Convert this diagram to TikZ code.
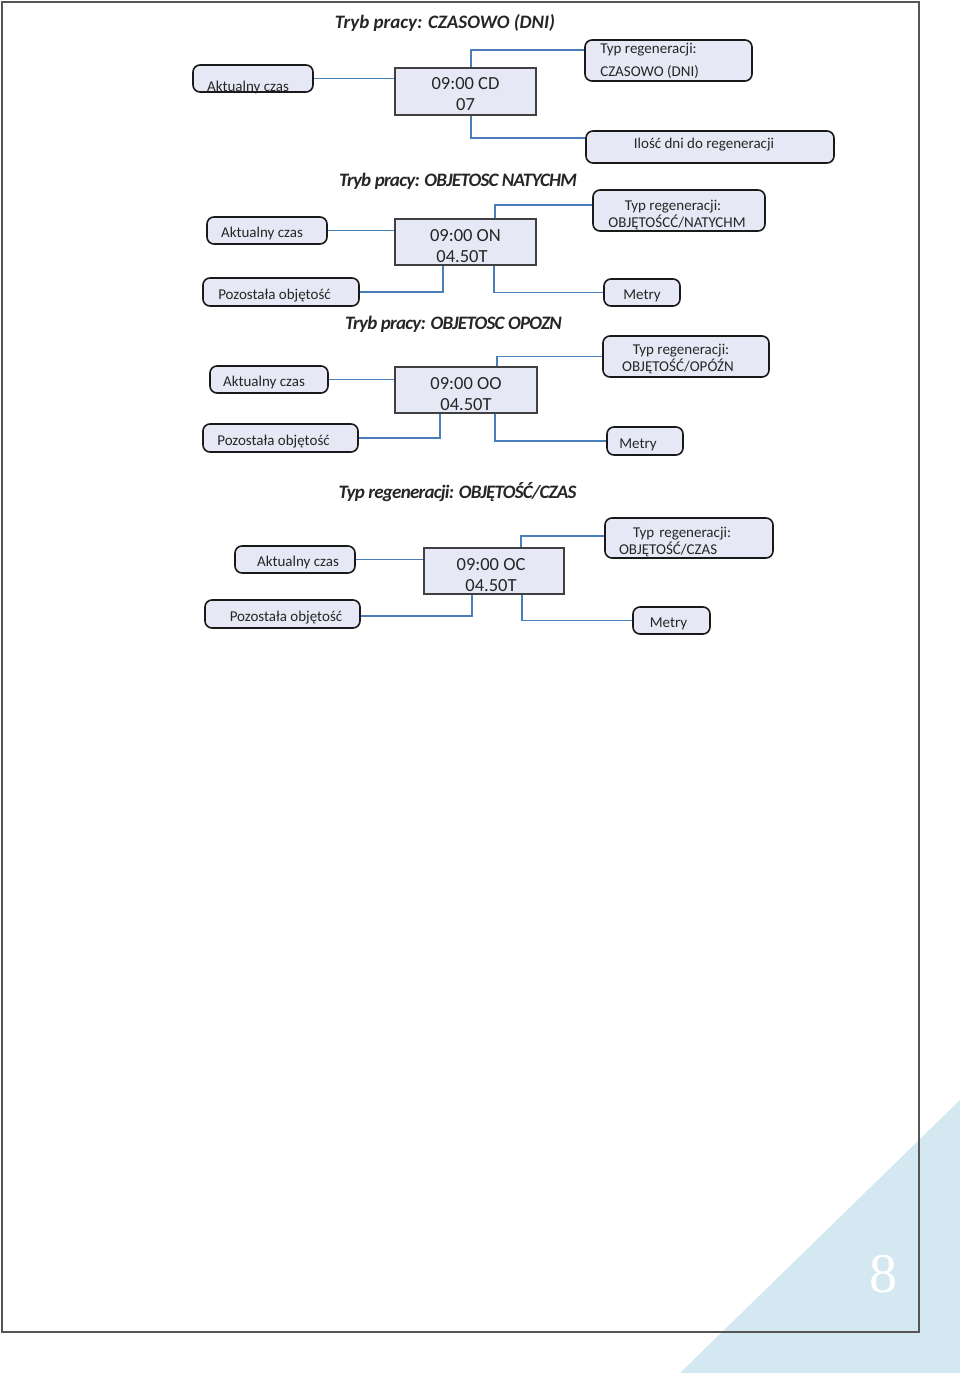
\documentclass[tikz,border=0pt]{standalone}
\usepackage{fontspec}
\setmainfont{Carlito}
\newfontfamily\eightfont{Liberation Serif}
\usetikzlibrary{calc}
\definecolor{boxfill}{HTML}{E6E9F5}
\definecolor{connblue}{HTML}{4A7EBB}
\definecolor{framegray}{HTML}{555555}
\definecolor{trifill}{HTML}{D3E8F0}
\definecolor{txt}{HTML}{262626}
\newcommand{\labfont}{\fontsize{15}{17}\selectfont}
\newcommand{\midfont}{\fontsize{18.5}{21}\selectfont}
\newcommand{\ttlfont}{\fontsize{19}{22}\selectfont\bfseries\itshape}
\newcommand{\sh}[1]{\hspace*{#1}}
\newcommand{\upstrut}{\rule{0pt}{19pt}}
\newcommand{\cstrut}{\rule{0pt}{20.5pt}}
\begin{document}
\begin{tikzpicture}[x=1pt,y=-1pt,
  rbox/.style={draw=black!90, line width=1.6pt, rounded corners=7pt, fill=boxfill,
    font=\labfont, text=txt, inner sep=0pt, align=center,
    execute at begin node={\rule{0pt}{17pt}}},
  plainbox/.style={rbox, execute at begin node={}},
  cbox/.style={draw=black!75, line width=1.5pt, fill=boxfill, font=\midfont, text=txt,
    inner sep=0pt, align=center},
  conn/.style={draw=connblue, line width=1.8pt},
  ttlnode/.style={font=\ttlfont, text=txt, inner sep=0pt}]
\useasboundingbox (0,0) rectangle (960,1373);
% background triangle and page frame
\fill[trifill] (680,1373) -- (960,1100) -- (960,1373) -- cycle;
\draw[framegray, line width=1.3pt] (2,2) rectangle (919,1332);
\node[font=\eightfont\fontsize{56}{56}\selectfont, text=white, inner sep=0pt] (pg) at (883,1274) {8};

% ---------- Section 1
\node[ttlnode] (T1) at (445,23) {Tryb pracy: CZASOWO (DNI)};
\node[plainbox, minimum width=120pt, minimum height=27pt] (a1) at (253,78.5) {\smash{\raisebox{-4.5pt}{\sh{-10pt}Aktualny czas}}};
\node[cbox, minimum width=141pt, minimum height=47pt] (c1) at (465.5,91.5) {\rule{0pt}{17.5pt}09:00 CD\\07};
\node[plainbox, minimum width=167pt, minimum height=41pt, align=left] (t1) at (668.5,60.5) {Typ regeneracji:\sh{40pt}\\[6pt]CZASOWO (DNI)};
\node[plainbox, minimum width=248pt, minimum height=32pt] (d1) at (710,147) {\smash{\raisebox{7pt}{\sh{-12pt}Ilość dni do regeneracji}}};
\draw[conn] (a1.east) -- (a1.east -| c1.west);
\draw[conn] ([xshift=5.5pt]c1.north) |- ([yshift=10.5pt]t1.west);
\draw[conn] ([xshift=5.5pt]c1.south) |- ([yshift=9pt]d1.west);

% ---------- Section 2
\node[ttlnode] (T2) at (458,181) {\addfontfeature{LetterSpace=-4}Tryb pracy: OBJETOSC NATYCHM};
\node[rbox, minimum width=120pt, minimum height=27pt] (a2) at (267,230.5) {\sh{-10pt}Aktualny czas};
\node[cbox, minimum width=141pt, minimum height=46pt] (c2) at (465.5,242) {\cstrut 09:00 ON\\\sh{-7pt}04.50T};
\node[rbox, minimum width=172pt, minimum height=41pt] (t2) at (679,210.5) {\upstrut\sh{-12pt}Typ regeneracji:\\\sh{-4pt}OBJĘTOŚCĆ/NATYCHM};
\node[rbox, minimum width=156pt, minimum height=28pt] (p2) at (281,292) {\sh{-13pt}Pozostała objętość};
\node[rbox, minimum width=76pt, minimum height=27pt] (m2) at (642,292.5) {Metry};
\draw[conn] (a2.east) -- (a2.east -| c2.west);
\draw[conn] ([xshift=29.5pt]c2.north) |- ([yshift=5.5pt]t2.west);
\draw[conn] ([xshift=-22.5pt]c2.south) |- (p2.east);
\draw[conn] ([xshift=28.5pt]c2.south) |- (m2.west);

% ---------- Section 3
\node[ttlnode] (T3) at (453.5,324) {\addfontfeature{LetterSpace=-4}Tryb pracy: OBJETOSC OPOZN};
\node[rbox, minimum width=118pt, minimum height=27pt] (a3) at (269,379.5) {\sh{-10pt}Aktualny czas};
\node[cbox, minimum width=142pt, minimum height=46pt] (c3) at (466,390) {\cstrut 09:00 OO\\04.50T};
\node[rbox, minimum width=166pt, minimum height=41pt] (t3) at (686,356.5) {\rule{0pt}{15pt}\sh{-10pt}Typ regeneracji:\\\sh{-16pt}OBJĘTOŚĆ/OPÓŹN};
\node[rbox, minimum width=155pt, minimum height=28pt] (p3) at (280.5,438) {\sh{-14pt}Pozostała objętość};
\node[rbox, minimum width=76pt, minimum height=28pt] (m3) at (645,441) {\sh{-14pt}Metry};
\draw[conn] (a3.east) -- (a3.east -| c3.west);
\draw[conn] ([xshift=31pt]c3.north) |- (t3.west);
\draw[conn] ([xshift=-26pt]c3.south) |- (p3.east);
\draw[conn] ([xshift=29pt]c3.south) |- (m3.west);

% ---------- Section 4
\node[ttlnode] (T4) at (457.5,492) {\addfontfeature{LetterSpace=-4}Typ regeneracji: OBJĘTOŚĆ/CZAS};
\node[rbox, minimum width=120pt, minimum height=27pt] (a4) at (295,559.5) {\sh{6pt}Aktualny czas};
\node[cbox, minimum width=140pt, minimum height=46pt] (c4) at (494,571) {\cstrut\sh{-6pt}09:00 OC\\\sh{-6pt}04.50T};
\node[rbox, minimum width=168pt, minimum height=40pt, align=left, text width=140pt] (t4) at (689,538) {\upstrut\sh{14pt}Typ regeneracji:\\OBJĘTOŚĆ/CZAS};
\node[rbox, minimum width=155pt, minimum height=28pt] (p4) at (282.5,614) {\sh{7pt}Pozostała objętość};
\node[rbox, minimum width=77pt, minimum height=27pt] (m4) at (671.5,620.5) {\sh{-6pt}Metry};
\draw[conn] (a4.east) -- (a4.east -| c4.west);
\draw[conn] ([xshift=27pt]c4.north) |- ([yshift=2pt]t4.west);
\draw[conn] ([xshift=-22pt]c4.south) |- ([yshift=-2pt]p4.east);
\draw[conn] ([xshift=28pt]c4.south) |- (m4.west);
\end{tikzpicture}
\end{document}
